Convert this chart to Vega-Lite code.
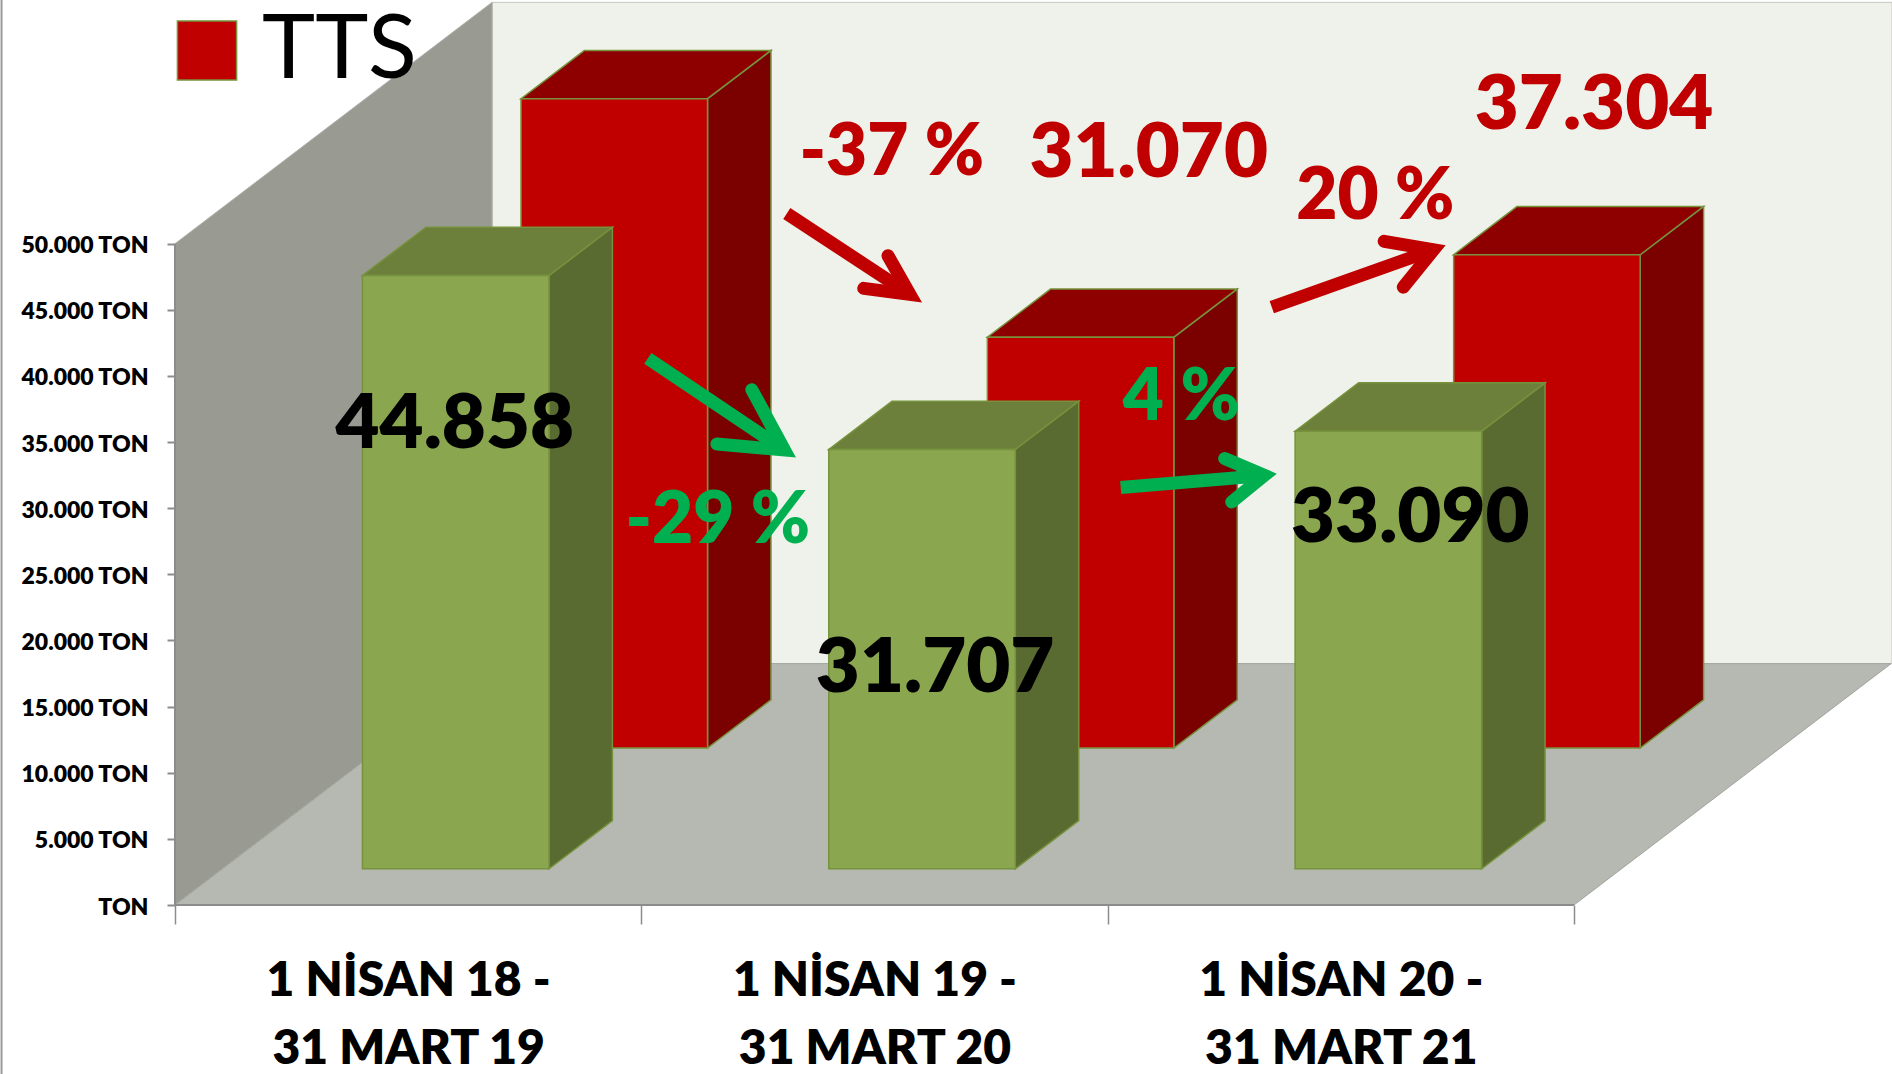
{
"$schema":"https://vega.github.io/schema/vega-lite/v6.json",
"width":1717,"height":905,
"autosize":{"type":"none"},
"padding":{"left":175,"top":0,"right":0,"bottom":169},
"background":"white",
"config":{"view":{"stroke":null}},
"datasets":{
"bars":[
{"period":"1 NİSAN 18 - 31 MART 19","series":"TTS","value":49100},
{"period":"1 NİSAN 19 - 31 MART 20","series":"TTS","value":31070},
{"period":"1 NİSAN 20 - 31 MART 21","series":"TTS","value":37304},
{"period":"1 NİSAN 18 - 31 MART 19","series":"Diğer","value":44858},
{"period":"1 NİSAN 19 - 31 MART 20","series":"Diğer","value":31707},
{"period":"1 NİSAN 20 - 31 MART 21","series":"Diğer","value":33090}
],
"wall":[{"x":0,"y":50000,"y2":0},{"x":0.68,"y":68250,"y2":18250}],
"floor":[{"x":0,"x2":3,"y":0},{"x":0.68,"x2":3.68,"y":18250}],
"back":[{"x":0.68,"x2":3.682,"y":68250,"y2":18250}],
"axisV":[{"x":0,"y":0,"y2":50000}],
"axisH":[{"x":0,"x2":3,"y":0}],
"edge":[{"x":-0.372,"y":-12780,"y2":68426}],
"arrows":[
{"arrow":"r1","part":"shaft","series":"TTS","ord":0,"x":1.312,"y":52281},
{"arrow":"r1","part":"shaft","series":"TTS","ord":1,"x":1.576,"y":46167},
{"arrow":"r1","part":"head","series":"TTS","ord":0,"x":1.529,"y":49087},
{"arrow":"r1","part":"head","series":"TTS","ord":1,"x":1.576,"y":46167},
{"arrow":"r1","part":"head","series":"TTS","ord":2,"x":1.477,"y":46624},
{"arrow":"g1","part":"shaft","series":"Diğer","ord":0,"x":1.014,"y":41332},
{"arrow":"g1","part":"shaft","series":"Diğer","ord":1,"x":1.307,"y":34397},
{"arrow":"g1","part":"head","series":"Diğer","ord":0,"x":1.237,"y":38959},
{"arrow":"g1","part":"head","series":"Diğer","ord":1,"x":1.307,"y":34397},
{"arrow":"g1","part":"head","series":"Diğer","ord":2,"x":1.162,"y":34854},
{"arrow":"r2","part":"shaft","series":"TTS","ord":0,"x":2.352,"y":45200},
{"arrow":"r2","part":"shaft","series":"TTS","ord":1,"x":2.699,"y":49543},
{"arrow":"r2","part":"head","series":"TTS","ord":0,"x":2.593,"y":50182},
{"arrow":"r2","part":"head","series":"TTS","ord":1,"x":2.699,"y":49543},
{"arrow":"r2","part":"head","series":"TTS","ord":2,"x":2.634,"y":46715},
{"arrow":"g2","part":"shaft","series":"Diğer","ord":0,"x":2.028,"y":31569},
{"arrow":"g2","part":"shaft","series":"Diğer","ord":1,"x":2.336,"y":32481},
{"arrow":"g2","part":"head","series":"Diğer","ord":0,"x":2.251,"y":33759},
{"arrow":"g2","part":"head","series":"Diğer","ord":1,"x":2.336,"y":32481},
{"arrow":"g2","part":"head","series":"Diğer","ord":2,"x":2.266,"y":30474}
],
"notes":[
{"label":"44.858","kind":"value","series":"Diğer","x":0.600,"y":36496},
{"label":"31.707","kind":"value","series":"Diğer","x":1.630,"y":18066},
{"label":"33.090","kind":"value","series":"Diğer","x":2.649,"y":29379},
{"label":"31.070","kind":"value","series":"TTS","x":2.088,"y":57025},
{"label":"37.304","kind":"value","series":"TTS","x":3.043,"y":60675},
{"label":"-37 %","kind":"change","series":"TTS","x":1.537,"y":57025},
{"label":"20 %","kind":"change","series":"TTS","x":2.574,"y":53649},
{"label":"-29 %","kind":"change","series":"Diğer","x":1.164,"y":29197},
{"label":"4 %","kind":"change","series":"Diğer","x":2.158,"y":38503}
]
},
"layer":[
{"data":{"name":"back"},"mark":{"type":"rect","fill":"#eff2ea","stroke":"#c4c6c0","strokeWidth":1},
 "encoding":{
  "x":{"field":"x","type":"quantitative","scale":{"domain":[0,3.682],"nice":false,"zero":false},
   "axis":{"values":[0,0.5,1,1.5,2,2.5,3],"title":null,"domain":false,"grid":false,"tickSize":19,"tickWidth":1.5,"tickColor":"#8c8c8c","tickOpacity":{"condition":{"test":"datum.value%1!==0","value":0},"value":1},"labelPadding":33,"labelFont":"Lato","labelFontWeight":800,"labelFontSize":48,"labelLineHeight":68,"labelLimit":500,"labelColor":"#000000","labelOverlap":false,"labelBound":false,"labelFlush":false,"labelBaseline":"top","labelExpr":"datum.value===0.5?['1 NİSAN 18 -','31 MART 19']:datum.value===1.5?['1 NİSAN 19 -','31 MART 20']:datum.value===2.5?['1 NİSAN 20 -','31 MART 21']:''"}},
  "x2":{"field":"x2"},
  "y":{"field":"y","type":"quantitative","scale":{"domain":[0,68426],"nice":false,"zero":false},
   "axis":{"values":[0,5000,10000,15000,20000,25000,30000,35000,40000,45000,50000],"title":null,"domain":false,"grid":false,"tickSize":8,"tickWidth":2,"tickColor":"#8c8c8c","labelPadding":19,"labelFont":"Lato","labelFontWeight":800,"labelFontSize":23,"labelOffset":2,"labelColor":"#000000","labelOverlap":false,"labelBound":false,"labelFlush":false,"labelExpr":"datum.value===0?'TON':replace(format(datum.value,','),',','.')+' TON'"}},
  "y2":{"field":"y2"}}},
{"data":{"name":"wall"},"mark":{"type":"area","fill":"#999b93","stroke":"#b0b1ab","strokeWidth":1,"orient":"vertical"},
 "encoding":{
  "x":{"field":"x","type":"quantitative"},
  "y":{"field":"y","type":"quantitative","stack":null},
  "y2":{"field":"y2"}}},
{"data":{"name":"floor"},"mark":{"type":"area","fill":"#b6b9b1","stroke":"#a2a49e","strokeWidth":1,"orient":"horizontal"},
 "encoding":{
  "x":{"field":"x","type":"quantitative","stack":null},
  "x2":{"field":"x2"},
  "y":{"field":"y","type":"quantitative"}}},
{"data":{"name":"edge"},"mark":{"type":"rule","color":"#9a9a9a","strokeWidth":2},
 "encoding":{
  "x":{"field":"x","type":"quantitative"},
  "y":{"field":"y","type":"quantitative"},
  "y2":{"field":"y2"}}},
{"data":{"name":"axisV"},"mark":{"type":"rule","color":"#8c8c8c","strokeWidth":2},
 "encoding":{
  "x":{"field":"x","type":"quantitative"},
  "y":{"field":"y","type":"quantitative"},
  "y2":{"field":"y2"}}},
{"data":{"name":"axisH"},"mark":{"type":"rule","color":"#8c8c8c","strokeWidth":2},
 "encoding":{
  "x":{"field":"x","type":"quantitative"},
  "x2":{"field":"x2"},
  "y":{"field":"y","type":"quantitative"}}},
{"data":{"name":"bars"},
 "transform":[
  {"filter":"datum.series==='TTS'"},
  {"calculate":"indexof(['1 NİSAN 18 - 31 MART 19','1 NİSAN 19 - 31 MART 20','1 NİSAN 20 - 31 MART 21'],datum.period)","as":"idx"},
  {"calculate":"[0,1]","as":"t"},{"flatten":["t"]},
  {"calculate":"0.65+0.2*datum.t","as":"d"},
  {"calculate":"datum.idx+0.3+datum.d*0.68","as":"xl"},
  {"calculate":"datum.idx+0.7+datum.d*0.68","as":"xr"},
  {"calculate":"datum.d*18250","as":"base"},
  {"calculate":"datum.value+datum.base","as":"top"}
 ],
 "layer":[
  {"mark":{"type":"area","orient":"vertical","fill":"#7b0000","stroke":"#76923c","strokeWidth":1.5},
   "encoding":{"x":{"field":"xr","type":"quantitative"},"y":{"field":"top","type":"quantitative","stack":null},"y2":{"field":"base"},"detail":{"field":"idx"}}},
  {"mark":{"type":"area","orient":"horizontal","fill":"#8e0000","stroke":"#76923c","strokeWidth":1.5},
   "encoding":{"x":{"field":"xl","type":"quantitative","stack":null},"x2":{"field":"xr"},"y":{"field":"top","type":"quantitative"},"detail":{"field":"idx"}}},
  {"transform":[{"filter":"datum.t===0"}],"mark":{"type":"rect","stroke":"#76923c","strokeWidth":1.5},
   "encoding":{"x":{"field":"xl","type":"quantitative"},"x2":{"field":"xr"},"y":{"field":"top","type":"quantitative"},"y2":{"field":"base"},
    "color":{"field":"series","type":"nominal","scale":{"domain":["TTS","Diğer"],"range":["#c00000","#8aa64f"]},
     "legend":{"orient":"none","legendX":-13,"legendY":5.5,"title":null,"values":["TTS"],"symbolType":"square","symbolSize":3500,"symbolStrokeWidth":1.5,"symbolOpacity":1,"labelFont":"Lato","labelFontSize":90,"labelColor":"#000000","labelOffset":10,"padding":0,"labelLimit":400}}}}
 ]},
{"data":{"name":"bars"},
 "transform":[
  {"filter":"datum.series!=='TTS'"},
  {"calculate":"indexof(['1 NİSAN 18 - 31 MART 19','1 NİSAN 19 - 31 MART 20','1 NİSAN 20 - 31 MART 21'],datum.period)","as":"idx"},
  {"calculate":"[0,1]","as":"t"},{"flatten":["t"]},
  {"calculate":"0.15+0.2*datum.t","as":"d"},
  {"calculate":"datum.idx+0.3+datum.d*0.68","as":"xl"},
  {"calculate":"datum.idx+0.7+datum.d*0.68","as":"xr"},
  {"calculate":"datum.d*18250","as":"base"},
  {"calculate":"datum.value+datum.base","as":"top"}
 ],
 "layer":[
  {"mark":{"type":"area","orient":"vertical","fill":"#5a6b31","stroke":"#76923c","strokeWidth":1.5},
   "encoding":{"x":{"field":"xr","type":"quantitative"},"y":{"field":"top","type":"quantitative","stack":null},"y2":{"field":"base"},"detail":{"field":"idx"}}},
  {"mark":{"type":"area","orient":"horizontal","fill":"#6d803b","stroke":"#76923c","strokeWidth":1.5},
   "encoding":{"x":{"field":"xl","type":"quantitative","stack":null},"x2":{"field":"xr"},"y":{"field":"top","type":"quantitative"},"detail":{"field":"idx"}}},
  {"transform":[{"filter":"datum.t===0"}],"mark":{"type":"rect","stroke":"#76923c","strokeWidth":1.5},
   "encoding":{"x":{"field":"xl","type":"quantitative"},"x2":{"field":"xr"},"y":{"field":"top","type":"quantitative"},"y2":{"field":"base"},
    "color":{"field":"series","type":"nominal","scale":{"domain":["TTS","Diğer"],"range":["#c00000","#8aa64f"]},
     "legend":{"orient":"none","legendX":-13,"legendY":5.5,"title":null,"values":["TTS"],"symbolType":"square","symbolSize":3500,"symbolStrokeWidth":1.5,"symbolOpacity":1,"labelFont":"Lato","labelFontSize":90,"labelColor":"#000000","labelOffset":10,"padding":0,"labelLimit":400}}}}
 ]},
{"data":{"name":"arrows"},"transform":[{"filter":"datum.part==='shaft'"}],
 "mark":{"type":"line","strokeWidth":13,"strokeCap":"butt"},
 "encoding":{"x":{"field":"x","type":"quantitative"},"y":{"field":"y","type":"quantitative"},"detail":{"field":"arrow"},"order":{"field":"ord"},
  "stroke":{"condition":{"test":"datum.series==='TTS'","value":"#c00000"},"value":"#00b050"}}},
{"data":{"name":"arrows"},"transform":[{"filter":"datum.part==='head'"}],
 "mark":{"type":"line","strokeWidth":13,"strokeCap":"round","strokeJoin":"miter","strokeMiterLimit":10},
 "encoding":{"x":{"field":"x","type":"quantitative"},"y":{"field":"y","type":"quantitative"},"detail":{"field":"arrow"},"order":{"field":"ord"},
  "stroke":{"condition":{"test":"datum.series==='TTS'","value":"#c00000"},"value":"#00b050"}}},
{"data":{"name":"notes"},
 "mark":{"type":"text","font":"Lato","fontWeight":800,"align":"center","baseline":"middle","dy":3},
 "encoding":{"x":{"field":"x","type":"quantitative"},"y":{"field":"y","type":"quantitative"},"text":{"field":"label"},
  "size":{"condition":{"test":"datum.kind==='change'","value":71},"value":76},
  "fill":{"condition":[{"test":"datum.kind==='value'&&datum.series==='Diğer'","value":"#000000"},{"test":"datum.series==='TTS'","value":"#c00000"}],"value":"#00b050"}}}
]
}
